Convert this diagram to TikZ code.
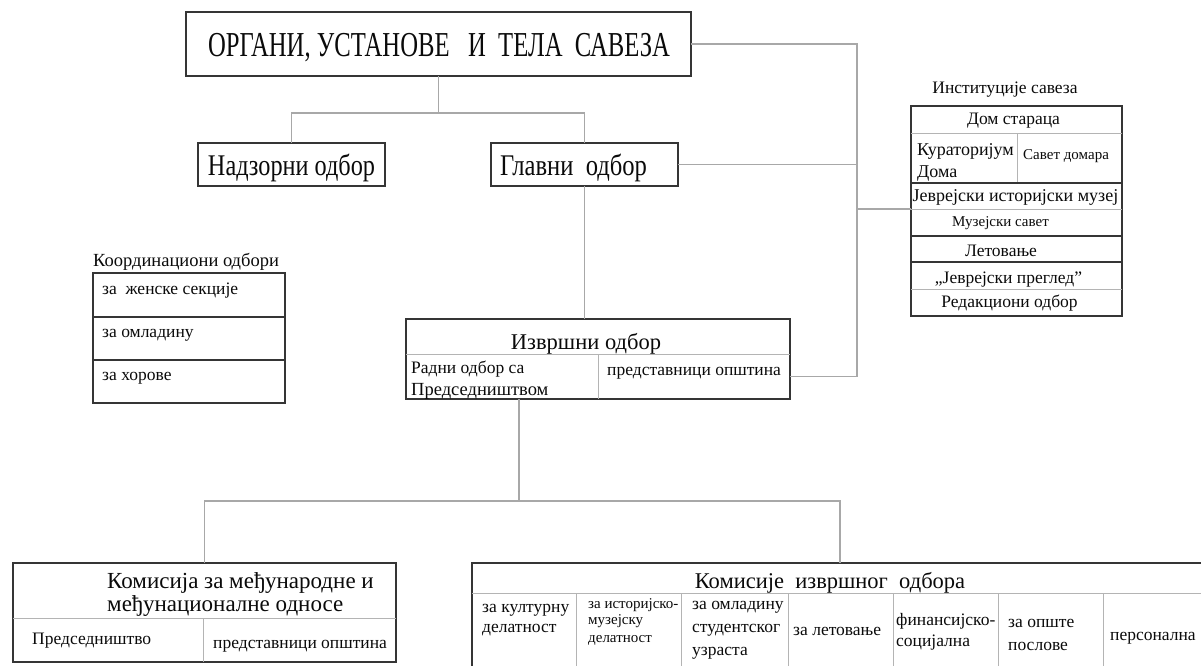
\documentclass[tikz,border=0pt]{standalone}
\usepackage{fontspec}
\setmainfont{Liberation Serif}
\usepackage{graphicx}
\definecolor{bx}{HTML}{353535}
\definecolor{cn}{HTML}{A8A8A8}
\definecolor{dvc}{HTML}{B4B4B4}
\definecolor{ink}{HTML}{0A0A0A}
\begin{document}
\begin{tikzpicture}[x=1pt,y=-1pt,
  box/.style={draw=bx, line width=1.3pt, inner sep=0pt, outer sep=0pt, anchor=north west},
  cell/.style={inner sep=0pt, outer sep=0pt, anchor=north west},
  conn/.style={draw=cn, line width=1.1pt},
  dv/.style={draw=dvc, line width=1pt},
  dk/.style={draw=bx, line width=1.3pt},
  tx/.style={inner sep=0pt, anchor=base west, text=ink, font=\fontsize{17.5}{20}\selectfont},
  tc/.style={inner sep=0pt, anchor=base, text=ink, font=\fontsize{17.5}{20}\selectfont},
  ts/.style={tx, font=\fontsize{15}{18}\selectfont},
  tsc/.style={tc, font=\fontsize{15}{18}\selectfont},
  tl/.style={inner sep=0pt, anchor=base west, text=ink, font=\fontsize{22.5}{26}\selectfont},
  tlc/.style={tl, anchor=base},
]
\useasboundingbox (0,0) rectangle (1201,665);
\clip (0,0) rectangle (1201,665);

% ---------- boxes ----------
\node[box, minimum width=505pt, minimum height=64pt] (top) at (186,12) {};
\node[box, minimum width=187pt, minimum height=43pt] (nad) at (198,143) {};
\node[box, minimum width=187pt, minimum height=43pt] (glav) at (491,143) {};
\node[box, minimum width=211pt, minimum height=210pt] (inst) at (911,106) {};
\node[box, minimum width=192pt, minimum height=130pt] (koord) at (93,273) {};
\node[box, minimum width=384pt, minimum height=80pt] (izv) at (406,319) {};
\node[box, minimum width=383pt, minimum height=99pt] (km) at (13,563) {};
\node[box, minimum width=736pt, minimum height=120pt] (kio) at (472,563) {};

% cells used as connector anchors
\node[cell, minimum width=192pt, minimum height=45pt] (izvR) at (598,354) {};
\node[cell, minimum width=211pt, minimum height=27pt] (muz) at (911,209) {};

% ---------- internal dividers ----------
% institutions
\draw[dv] (911,133) -- (1122,133);
\draw[dv] (1017,133) -- (1017,183);
\draw[dk] (911,183) -- (1122,183);
\draw[dv] (911,209) -- (1122,209);
\draw[dk] (911,236) -- (1122,236);
\draw[dk] (911,262) -- (1122,262);
\draw[dv] (911,289) -- (1122,289);
% coordination boards
\draw[dk] (93,317) -- (285,317);
\draw[dk] (93,360) -- (285,360);
% executive board
\draw[dv] (406,354) -- (790,354);
\draw[dv] (598,354) -- (598,399);
% international commission
\draw[dv] (13,618) -- (396,618);
\draw[dv] (203,618) -- (203,662);
% executive commissions
\draw[dv] (472,593) -- (1208,593);
\foreach \xx in {576,681,788,893,998,1103} \draw[dv] (\xx,593) -- (\xx,683);

% ---------- connectors ----------
\coordinate (j1) at (438.5,113);
\draw[conn] (top.south) -- (j1);
\draw[conn] (nad.north) |- (j1) -| (glav.north);
\draw[conn] (glav.south) -- (glav.south |- izv.north);
\coordinate (bus) at (857,44);
\draw[conn] (top.east) -- (bus) |- (izvR.east);
\draw[conn] (glav.east) -- (glav.east -| bus);
\draw[conn] (muz.north west) -- (muz.north west -| bus);
\coordinate (j2) at (519,501);
\draw[conn] (j2 |- izv.south) -- (j2);
\draw[conn] (km.north) |- (j2) -| (kio.north);

% ---------- texts ----------
\node[inner sep=0pt, anchor=base, text=ink] (topT) at (439,56)
  {\resizebox{462pt}{\height}{\fontsize{35}{40}\selectfont ОРГАНИ, УСТАНОВЕ\ \ \ И\ \ ТЕЛА\ \ САВЕЗА}};
\node[inner sep=0pt, anchor=base, text=ink] (nadT) at (291.5,175)
  {\resizebox{167pt}{\height}{\fontsize{30}{34}\selectfont Надзорни одбор}};
\node[inner sep=0pt, anchor=base, text=ink] (glavT) at (573.5,175)
  {\resizebox{147pt}{\height}{\fontsize{30}{34}\selectfont Главни\ \ одбор}};

% institutions
\node[tc] (instL) at (1005,93) {Институције савеза};
\node[tc] (i1) at (1013.5,124) {Дом стараца};
\node[tx, font=\fontsize{18}{20}\selectfont] (i2a) at (917,155) {Кураторијум};
\node[tx, font=\fontsize{18}{20}\selectfont] (i2b) at (917,177) {Дома};
\node[ts] (i3) at (1023,159) {Савет домара};
\node[tc, font=\fontsize{18}{20}\selectfont] (i4) at (1015.5,201) {Јеврејски историјски музеј};
\node[tsc] (i5) at (1000.5,226) {Музејски савет};
\node[tc] (i6) at (1001,256) {Летовање};
\node[tc] (i7) at (1008.5,283) {„Јеврејски преглед"};
\node[tc] (i8) at (1009.5,307) {Редакциони одбор};

% coordination boards
\node[tx, font=\fontsize{18.5}{20}\selectfont] (kL) at (93,266) {Координациони одбори};
\node[tx] (k1) at (102,294) {за\ \ женске секције};
\node[tx] (k2) at (102,337) {за омладину};
\node[tx] (k3) at (102,380) {за хорове};

% executive board
\node[tlc] (izvT) at (586,349) {Извршни одбор};
\node[tx] (izvL1) at (411,373) {Радни одбор са};
\node[tx, font=\fontsize{18.5}{20}\selectfont] (izvL2) at (411,395) {Председништвом};
\node[tx] (izvRT) at (607,375) {представници општина};

% international commission
\node[tl, font=\fontsize{23}{26}\selectfont] (km1) at (107,588) {Комисија за међународне и};
\node[tl, font=\fontsize{23}{26}\selectfont] (km2) at (107,611) {међунационалне односе};
\node[tx] (km3) at (32,644) {Председништво};
\node[tx] (km4) at (213,648) {представници општина};

% executive commissions
\node[tlc] (kioT) at (830,588) {Комисије\ \ извршног\ \ одбора};
\node[tx] (c1a) at (482,612) {за културну};
\node[tx] (c1b) at (482,632) {делатност};
\node[ts] (c2a) at (588,608) {за историјско-};
\node[ts] (c2b) at (588,624) {музејску};
\node[ts] (c2c) at (588,642) {делатност};
\node[tx] (c3a) at (692,609) {за омладину};
\node[tx] (c3b) at (692,632) {студентског};
\node[tx] (c3c) at (692,655) {узраста};
\node[tx] (c4) at (793,635) {за летовање};
\node[tx] (c5a) at (896,625) {финансијско-};
\node[tx] (c5b) at (896,646) {социјална};
\node[tx] (c6a) at (1008,627) {за опште};
\node[tx] (c6b) at (1008,650) {послове};
\node[tx] (c7) at (1110,640) {персонална};
\end{tikzpicture}
\end{document}
